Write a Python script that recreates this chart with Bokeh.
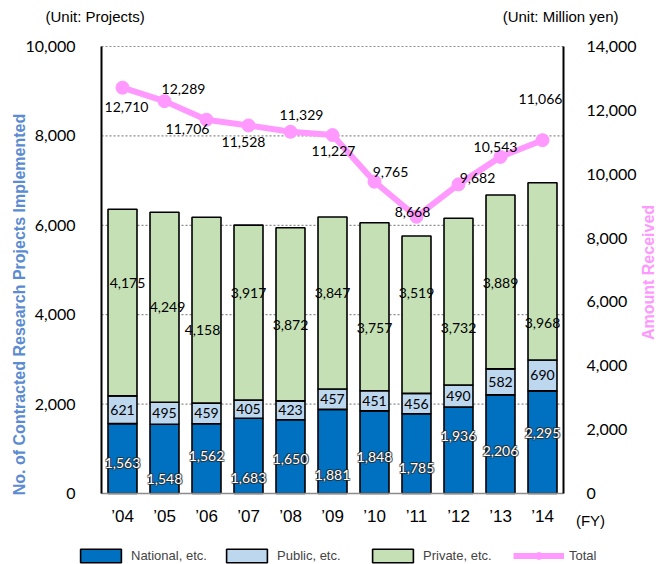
import numpy as np
from bokeh.plotting import figure
from bokeh.models import (ColumnDataSource, LinearAxis, Range1d, Legend, LegendItem,
                          Label, FixedTicker, NumeralTickFormatter)
from bokeh.core.properties import value
from bokeh.embed import file_html
from bokeh.resources import INLINE

# ---- data ----
years = ["’04", "’05", "’06", "’07", "’08", "’09", "’10", "’11", "’12", "’13", "’14"]
national = [1563, 1548, 1562, 1683, 1650, 1881, 1848, 1785, 1936, 2206, 2295]
public = [621, 495, 459, 405, 423, 457, 451, 456, 490, 582, 690]
private = [4175, 4249, 4158, 3917, 3872, 3847, 3757, 3519, 3732, 3889, 3968]
total_amount = [12710, 12289, 11706, 11528, 11329, 11227, 9765, 8668, 9682, 10543, 11066]
left_ticks = [0, 2000, 4000, 6000, 8000, 10000]
right_ticks = [0, 2000, 4000, 6000, 8000, 10000, 12000, 14000]
left_max = 10000
right_max = 14000

# ---- layout (pixels, styling only) ----
W, H = 666, 564
PLOT_L, PLOT_R, PLOT_T, PLOT_B = 101, 563, 46, 493   # where the axes sit on the canvas
n = len(years)
px_x = (PLOT_R - PLOT_L) / n
x_lo = -0.5 - PLOT_L / px_x
x_hi = n - 0.5 + (W - PLOT_R) / px_x
frac_top = PLOT_T / (PLOT_B - PLOT_T)
frac_bot = (H - PLOT_B) / (PLOT_B - PLOT_T)

# ---- label placement offsets (pixels, styling only) ----
nat_dy = [4, 20, -3, 22, 2, 24, 5, 14, -14, 7, -9]
priv_dy = [-20, 0, 20, -20, 11, -10, 21, -22, 26, 1, 52]
priv_dx = [5, 3, -4, 0, 0, 0, 0, 0, 0, 0, 0]
line_dx = [4, 19, -19, -5, 11, 1, 16, -4, 19, -5, -2]
line_dy = [19, -12, 9, 17, -17, 16, -10, -5, -6, -10, -41]

C_NAT = "#0070C0"
C_PUB = "#BDD7EE"
C_PRI = "#C5E0B4"
C_TOT = "#FF99FF"
C_LEFT_TITLE = "#5B8BD0"

idx = list(range(n))
nat = np.array(national)
pub = np.array(public)
pri = np.array(private)
halo = [(-1, -1), (1, -1), (-1, 1), (1, 1), (0, -1), (0, 1), (-1, 0), (1, 0)]
cols = dict(
    x=idx,
    nat_top=nat, pub_bot=nat, pub_top=nat + pub, pri_bot=nat + pub, pri_top=nat + pub + pri,
    nat_mid=nat / 2, pub_mid=nat + pub / 2, pri_mid=nat + pub + pri / 2,
    nat_lbl=[f"{v:,}" for v in national], pub_lbl=[f"{v:,}" for v in public],
    pri_lbl=[f"{v:,}" for v in private],
    nat_dy=nat_dy, priv_dy=priv_dy, priv_dx=priv_dx,
)
for k, (ox, oy) in enumerate(halo):
    cols[f"hdy{k}"] = [d + oy for d in nat_dy]
src = ColumnDataSource(cols)
lsrc = ColumnDataSource(dict(x=idx, y=total_amount, lbl=[f"{v:,}" for v in total_amount],
                             dx=line_dx, dy=line_dy))

p = figure(width=W, height=H, output_backend="svg", toolbar_location=None,
           x_range=Range1d(x_lo, x_hi),
           y_range=Range1d(-left_max * frac_bot, left_max * (1 + frac_top)),
           min_border=0)
p.outline_line_color = None
p.extra_y_ranges = {"amt": Range1d(-right_max * frac_bot, right_max * (1 + frac_top))}

# grid: dotted lines at the left-axis ticks, limited to the plot area
p.xgrid.grid_line_color = None
p.ygrid.grid_line_color = None
grid_y = [t for t in left_ticks if t > 0]
p.segment(x0=[-0.5] * len(grid_y), x1=[n - 0.5] * len(grid_y), y0=grid_y, y1=grid_y,
          line_color="#8c8c8c", line_dash="2 2", line_width=1.2)

# x axis (drawn at y = 0)
p.xaxis.fixed_location = 0
p.xaxis.bounds = (-0.5, n - 0.5)
p.xaxis.ticker = FixedTicker(ticks=idx)
p.xaxis.major_label_overrides = {i: years[i] for i in idx}
p.xaxis.axis_line_color = "#8c8c8c"
p.xaxis.axis_line_width = 1.5
p.xaxis.major_tick_line_color = None
p.xaxis.minor_tick_line_color = None
p.xaxis.major_label_standoff = 7
p.xaxis.major_label_text_font = "Liberation Sans"
p.xaxis.major_label_text_font_size = "17px"
p.xaxis.major_label_text_color = "black"

# left axis
p.yaxis.fixed_location = -0.5
p.yaxis.bounds = (0, left_max)
p.yaxis.ticker = FixedTicker(ticks=left_ticks)
p.yaxis.formatter = NumeralTickFormatter(format="0,0")
p.yaxis.axis_line_color = "black"
p.yaxis.axis_line_width = 2
p.yaxis.major_tick_line_color = None
p.yaxis.minor_tick_line_color = None
p.yaxis.major_label_standoff = 20
p.yaxis.major_label_text_font = "Lato"
p.yaxis.major_label_text_font_size = "16px"
p.yaxis.major_label_text_color = "black"

# right axis
ax_r = LinearAxis(y_range_name="amt", ticker=FixedTicker(ticks=right_ticks),
                  formatter=NumeralTickFormatter(format="0,0"))
ax_r.fixed_location = n - 0.5
ax_r.bounds = (0, right_max)
ax_r.axis_line_color = "black"
ax_r.axis_line_width = 2
ax_r.major_tick_line_color = None
ax_r.minor_tick_line_color = None
ax_r.major_label_standoff = 17
ax_r.major_label_text_font = "Lato"
ax_r.major_label_text_font_size = "16px"
ax_r.major_label_text_color = "black"
p.add_layout(ax_r, "right")

# bars
bw = 0.69
r_nat = p.vbar(x="x", bottom=0, top="nat_top", width=bw, source=src,
               fill_color=C_NAT, line_color="black", line_width=1.6)
r_pub = p.vbar(x="x", bottom="pub_bot", top="pub_top", width=bw, source=src,
               fill_color=C_PUB, line_color="black", line_width=1.6)
r_pri = p.vbar(x="x", bottom="pri_bot", top="pri_top", width=bw, source=src,
               fill_color=C_PRI, line_color="black", line_width=1.6)

# bar labels (national: white text with dark halo)
for k, (ox, oy) in enumerate(halo):
    p.text(x="x", y="nat_mid", text="nat_lbl", source=src, y_offset=f"hdy{k}", x_offset=ox,
           text_align="center", text_baseline="middle", text_color="#2a2a2a", text_alpha=0.5,
           text_font=value("Lato"), text_font_size="14px")
p.text(x="x", y="nat_mid", text="nat_lbl", source=src, y_offset="nat_dy",
       text_align="center", text_baseline="middle", text_color="white",
       text_font=value("Lato"), text_font_size="14px")
p.text(x="x", y="pub_mid", text="pub_lbl", source=src,
       text_align="center", text_baseline="middle", text_color="black",
       text_font=value("Lato"), text_font_size="14px")
p.text(x="x", y="pri_mid", text="pri_lbl", source=src, y_offset="priv_dy", x_offset="priv_dx",
       text_align="center", text_baseline="middle", text_color="black",
       text_font=value("Lato"), text_font_size="14px")

# total line
r_line = p.line(x="x", y="y", source=lsrc, y_range_name="amt", line_color=C_TOT, line_width=6)
r_pts = p.scatter(x="x", y="y", source=lsrc, y_range_name="amt", size=13,
                  fill_color=C_TOT, line_color=C_TOT)
p.text(x="x", y="y", text="lbl", source=lsrc, y_range_name="amt",
       x_offset="dx", y_offset="dy", text_align="center", text_baseline="middle",
       text_color="black", text_font=value("Lato"), text_font_size="14px")

# titles / notes (screen units: from the canvas' bottom-left corner)
def note(x, y, text, align="center", angle=0.0, color="black", size="15px", style="normal"):
    p.add_layout(Label(x=x, y=y, x_units="screen", y_units="screen", angle=angle,
                       text=text, text_align=align, text_baseline="middle",
                       text_color=color, text_font="Liberation Sans",
                       text_font_style=style, text_font_size=size))

note(19, H - 304, "No. of Contracted Research Projects Implemented", angle=np.pi / 2,
     color=C_LEFT_TITLE, size="16px", style="bold")
note(648, H - 272, "Amount Received", angle=np.pi / 2, color=C_TOT, size="16px", style="bold")
note(45, H - 16, "(Unit: Projects)", align="left")
note(618, H - 16, "(Unit: Million yen)", align="right")
note(590, H - 520, "(FY)")

# legend
legend = Legend(items=[LegendItem(label="National, etc.", renderers=[r_nat]),
                       LegendItem(label="Public, etc.", renderers=[r_pub]),
                       LegendItem(label="Private, etc.", renderers=[r_pri]),
                       LegendItem(label="Total", renderers=[r_line, r_pts])],
                orientation="horizontal", location=(75, 0),
                glyph_width=51, glyph_height=17, label_height=17, label_width=80,
                label_standoff=5, spacing=10, padding=0, margin=0,
                border_line_color=None, background_fill_alpha=0,
                label_text_font="Liberation Sans", label_text_font_size="13px")
p.add_layout(legend)

open("out.html", "w").write(file_html(p, INLINE))
